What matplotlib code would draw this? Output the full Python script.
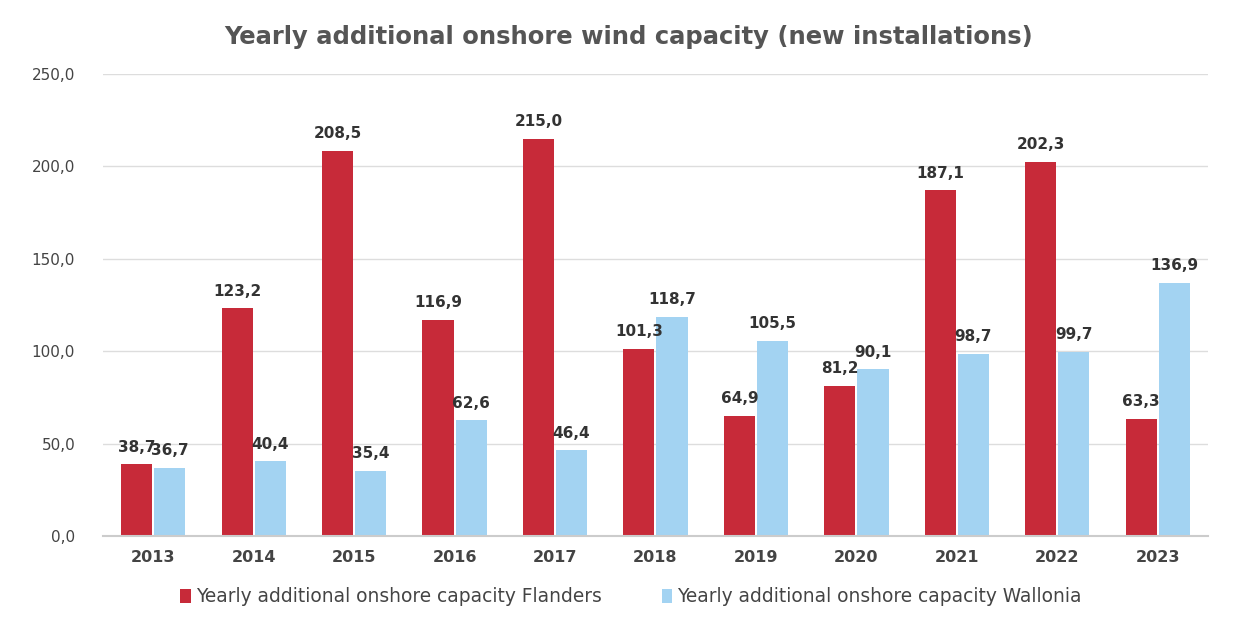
import numpy as np
import matplotlib.pyplot as plt

years = ['2013', '2014', '2015', '2016', '2017', '2018', '2019', '2020', '2021', '2022', '2023']
flanders = [38.7, 123.2, 208.5, 116.9, 215.0, 101.3, 64.9, 81.2, 187.1, 202.3, 63.3]
wallonia = [36.7, 40.4, 35.4, 62.6, 46.4, 118.7, 105.5, 90.1, 98.7, 99.7, 136.9]
yticks = [0, 50, 100, 150, 200, 250]

red = '#C72A39'
blue = '#A3D3F2'
txt = '#444444'

fig = plt.figure(figsize=(12.39, 6.22), dpi=100)
ax = fig.add_axes([0.0831, 0.1383, 0.8919, 0.7427])

x = np.arange(len(years))
w = 0.31
b1 = ax.bar(x - w / 2 - 0.01, flanders, w, color=red, label='Yearly additional onshore capacity Flanders')
b2 = ax.bar(x + w / 2 + 0.01, wallonia, w, color=blue, label='Yearly additional onshore capacity Wallonia')

for bars in (b1, b2):
    for r in bars:
        v = r.get_height()
        ax.annotate(f'{v:.1f}'.replace('.', ','), (r.get_x() + r.get_width() / 2, v),
                    xytext=(0, 7), textcoords='offset points', ha='center', va='bottom',
                    fontsize=11, fontweight='bold', color='#333333')

ax.set_xlim(-0.5, len(years) - 0.5)
ax.set_ylim(0, 250)
ax.set_yticks(yticks)
ax.set_yticklabels([f'{t:.1f}'.replace('.', ',') for t in yticks], fontsize=11, color=txt)
ax.set_xticks(x)
ax.set_xticklabels(years, fontsize=11.5, fontweight='bold', color=txt)
ax.tick_params(length=0, pad=10)
ax.tick_params(axis='y', pad=20)
ax.grid(axis='y', color='#dddddd', linewidth=1)
ax.set_axisbelow(True)
for s in ['top', 'right', 'left']:
    ax.spines[s].set_visible(False)
ax.spines['bottom'].set_color('#cccccc')
ax.spines['bottom'].set_linewidth(1.5)

fig.text(0.507, 0.94, 'Yearly additional onshore wind capacity (new installations)',
         ha='center', va='center', fontsize=17.5, fontweight='bold', color='#555555')

ax.legend(loc='upper center', bbox_to_anchor=(0.478, -0.075), ncol=2, frameon=False,
          fontsize=13.4, handlelength=0.55, handleheight=0.75, handletextpad=0.3,
          columnspacing=3.2, labelcolor=txt)

fig.savefig('out.png', dpi=100)
